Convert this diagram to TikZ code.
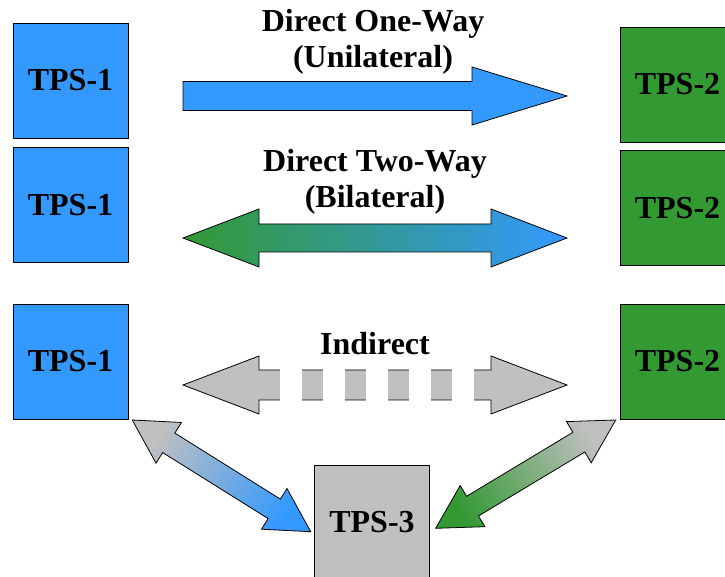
\documentclass[tikz,border=0pt]{standalone}
\usepackage{fontspec}
\setmainfont{Liberation Serif}
\usetikzlibrary{calc}
\definecolor{tpsblue}{HTML}{3399FF}
\definecolor{tpsgreen}{HTML}{339933}
\definecolor{tpsgray}{HTML}{C0C0C0}
\tikzset{
  tps/.style = {draw, line width=0.8pt, fill=#1,
                minimum width=115pt, minimum height=115pt,
                inner sep=0pt, font=\bfseries\fontsize{32}{36}\selectfont},
  tps/.default = tpsgray,
  lbl/.style = {anchor=base, inner sep=0pt,
                font=\bfseries\fontsize{32}{36}\selectfont},
  blockarr/.style = {draw, line width=0.8pt, line join=miter}
}
% block arrow, one head: style, tail, tip
\newcommand{\onearrow}[3]{%
  \coordinate (hb) at ($(#3)!\hlen!(#2)$);
  \path[#1] ($(#2)!\swid!90:(#3)$) -- ($(hb)!\swid!-90:(#2)$) -- ($(hb)!\hwid!-90:(#2)$)
    -- (#3) -- ($(hb)!\hwid!90:(#2)$) -- ($(hb)!\swid!90:(#2)$) -- ($(#2)!\swid!-90:(#3)$) -- cycle;
}
% block arrow, two heads: style, tip, tip
\newcommand{\twoarrow}[3]{%
  \coordinate (ha) at ($(#2)!\hlen!(#3)$);
  \coordinate (hb) at ($(#3)!\hlen!(#2)$);
  \path[#1] (#2) -- ($(ha)!\hwid!90:(#3)$) -- ($(ha)!\swid!90:(#3)$) -- ($(hb)!\swid!-90:(#2)$)
    -- ($(hb)!\hwid!-90:(#2)$) -- (#3) -- ($(hb)!\hwid!90:(#2)$) -- ($(hb)!\swid!90:(#2)$)
    -- ($(ha)!\swid!-90:(#3)$) -- ($(ha)!\hwid!-90:(#3)$) -- cycle;
}
\begin{document}
\begin{tikzpicture}[x=1pt, y=1pt]
	\useasboundingbox (0,0) rectangle (725,577);
	
	% Boxes
	\node[tps=tpsblue]  (one1) at (70.5,496.5) {TPS-1};
	\node[tps=tpsblue]  (one2) at (70.5,372)   {TPS-1};
	\node[tps=tpsblue]  (one3) at (70.5,215.5) {TPS-1};
	\node[tps=tpsgreen] (two1) at (677.5,492.5) {TPS-2};
	\node[tps=tpsgreen] (two2) at (677.5,369)   {TPS-2};
	\node[tps=tpsgreen] (two3) at (677.5,215.5) {TPS-2};
	\node[tps]          (three) at (372,54.5)   {TPS-3};
	
	% Labels
	\node[lbl] (oneway) at (373,545) {Direct One-Way};
	\node[lbl] (unilat) at ($(oneway.base)+(0,-36)$) {(Unilateral)};
	\node[lbl] (twoway) at (375,405) {Direct Two-Way};
	\node[lbl] (bilat)  at ($(twoway.base)+(0,-36)$) {(Bilateral)};
	\node[lbl] (indir)  at (375,222) {Indirect};
	
	% Arrow ends
	\coordinate (uniA) at (183,481);
	\coordinate (uniB) at (567,481);
	\coordinate (biA)  at (183,339);
	\coordinate (biB)  at (567,339);
	\coordinate (inA)  at (183,192);
	\coordinate (inB)  at (567,192);
	\coordinate (lfA)  at (132.3,157);
	\coordinate (lfB)  at (310.7,45.3);
	\coordinate (rtA)  at (615.7,157);
	\coordinate (rtB)  at (435.7,48.7);
	
	% Direct one-way
	\def\hlen{95pt} \def\hwid{29pt} \def\swid{14.5pt}
	\onearrow{blockarr, fill=tpsblue}{uniA}{uniB}
	
	% Direct two-way
	\def\hlen{76pt} \def\hwid{29pt} \def\swid{14pt}
	\twoarrow{blockarr, left color=tpsgreen, right color=tpsblue}{biA}{biB}
	
	% Indirect
	\def\swid{15pt}
	\twoarrow{blockarr, fill=tpsgray}{inA}{inB}
	\foreach \g in {280,323,366,409,452}
		\fill[white] (\g,175.5) rectangle +(21.5,33);
	
	% Via TPS-3
	\def\hlen{43pt} \def\hwid{24pt} \def\swid{11.5pt}
	\twoarrow{blockarr, top color=tpsgray, bottom color=tpsblue, shading angle=58}{lfA}{lfB}
	\twoarrow{blockarr, top color=tpsgray, bottom color=tpsgreen, shading angle=-59}{rtA}{rtB}
	
\end{tikzpicture}
\end{document}
